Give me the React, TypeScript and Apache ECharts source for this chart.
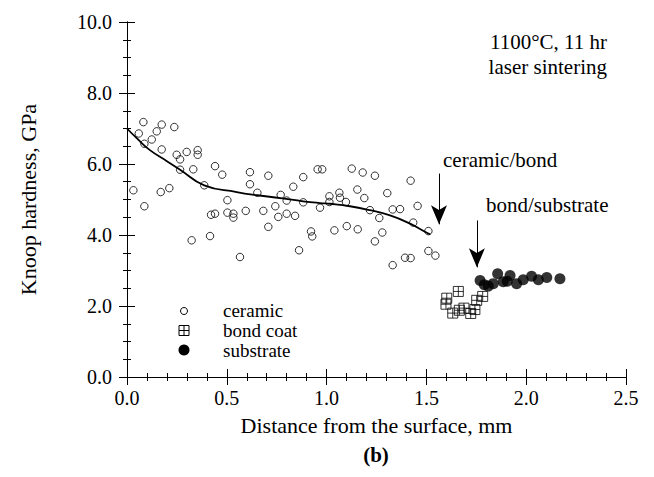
import React, { useEffect, useRef } from "react";
import * as echarts from "echarts";

const ceramicX = [0.032, 0.087, 0.059, 0.082, 0.087, 0.124, 0.149, 0.174, 0.237, 0.174, 0.249, 0.266, 0.299, 0.354, 0.354, 0.266, 0.332, 0.441, 0.477, 0.169, 0.212, 0.387, 0.503, 0.616, 0.616, 0.708, 0.653, 0.833, 0.883, 0.955, 0.978, 0.770, 0.800, 0.883, 0.967, 0.743, 0.421, 0.441, 0.503, 0.533, 0.533, 0.595, 0.683, 0.758, 0.800, 0.842, 0.708, 0.324, 0.416, 0.922, 0.928, 0.862, 0.566, 1.126, 1.181, 1.242, 1.421, 1.014, 1.064, 1.067, 1.097, 1.014, 1.154, 1.189, 1.304, 1.331, 1.368, 1.456, 1.217, 1.264, 1.434, 1.510, 1.039, 1.101, 1.156, 1.279, 1.242, 1.510, 1.545, 1.393, 1.421, 1.331];
const ceramicY = [5.26, 4.81, 6.86, 7.18, 6.57, 6.69, 6.92, 7.11, 7.04, 6.41, 6.26, 6.13, 6.34, 6.39, 6.26, 5.84, 5.85, 5.94, 5.70, 5.21, 5.32, 5.40, 4.98, 5.77, 5.43, 5.67, 5.19, 5.36, 5.63, 5.85, 5.85, 5.13, 4.97, 4.92, 4.77, 4.81, 4.57, 4.60, 4.63, 4.60, 4.49, 4.68, 4.68, 4.51, 4.60, 4.54, 4.23, 3.85, 3.97, 4.10, 3.96, 3.57, 3.38, 5.87, 5.76, 5.67, 5.53, 5.09, 5.19, 5.05, 4.93, 4.93, 5.28, 5.04, 5.18, 4.72, 4.73, 4.82, 4.70, 4.48, 4.35, 4.11, 4.13, 4.25, 4.16, 4.07, 3.82, 3.55, 3.42, 3.36, 3.35, 3.15];

const bondX = [1.660, 1.602, 1.598, 1.632, 1.665, 1.688, 1.722, 1.743, 1.752, 1.782];
const bondY = [2.41, 2.22, 2.05, 1.80, 1.88, 1.94, 1.79, 1.90, 2.16, 2.27];

const substrateX = [1.769, 1.810, 1.835, 1.857, 1.885, 1.905, 1.919, 1.952, 1.985, 2.027, 2.061, 2.103, 2.169, 1.79];
const substrateY = [2.72, 2.56, 2.63, 2.91, 2.68, 2.70, 2.86, 2.63, 2.74, 2.84, 2.74, 2.80, 2.77, 2.60];

const fitX = [0, 0.05, 0.115, 0.2, 0.266, 0.387, 0.55, 0.653, 0.77, 0.883, 0.967, 1.017, 1.117, 1.217, 1.318, 1.418, 1.50, 1.52];
const fitY = [7.0, 6.72, 6.39, 6.08, 5.84, 5.40, 5.21, 5.12, 5.04, 4.95, 4.90, 4.88, 4.81, 4.70, 4.55, 4.32, 4.07, 4.02];

const arrowCeramicBond = { x: 1.563, yFrom: 5.73, yTo: 4.30 };
const arrowBondSubstrate = { x: 1.753, yFrom: 4.41, yTo: 3.09 };

const xTicks = { min: 0, max: 2.5, interval: 0.5 };
const yTicks = { min: 0, max: 10, interval: 2 };

const FONT = "'Liberation Serif', 'Times New Roman', serif";
const TXT = 21;

const zip = (xs: number[], ys: number[]) => xs.map((x, i) => [x, ys[i]]);

const SQUARE = "path://M0,0L10,0L10,10L0,10Z M5,0L5,10 M0,5L10,5";

export default function App() {
  const ref = useRef<HTMLDivElement>(null);
  useEffect(() => {
    if (!ref.current) return;
    const chart = echarts.init(ref.current, undefined, { renderer: "svg" });
    const axisCommon = {
      type: "value" as const,
      axisLine: { show: true, lineStyle: { color: "#000", width: 1 } },
      axisTick: { show: true, inside: true, length: 8, lineStyle: { color: "#000", width: 1 } },
      splitLine: { show: false },
    };
    const labelStyle = {
      color: "#000",
      fontFamily: FONT,
      fontSize: 20,
    };
    const t = (text: string, x: number, y: number, align = "left", bold = false, size = TXT) => ({
      type: "text",
      x,
      y,
      style: {
        text,
        font: `${bold ? "bold " : ""}${size}px ${FONT}`,
        fill: "#000",
        align,
        verticalAlign: "middle",
      },
    });
    chart.setOption({
      animation: false,
      backgroundColor: "#fff",
      grid: { left: 127, right: 28, top: 22, bottom: 100 },
      xAxis: [
        {
          ...axisCommon,
          ...xTicks,
          position: "bottom",
          minorTick: { show: true, splitNumber: 5, length: 4, lineStyle: { color: "#000" } },
          axisLabel: { ...labelStyle, margin: 11, formatter: (v: number) => v.toFixed(1) },
          name: "Distance from the surface, mm",
          nameLocation: "middle",
          nameGap: 37,
          nameTextStyle: { color: "#000", fontFamily: FONT, fontSize: 22 },
        },
        {
          ...axisCommon,
          ...xTicks,
          position: "top",
          minorTick: { show: true, splitNumber: 5, length: 4, lineStyle: { color: "#000" } },
          axisLabel: { show: false },
        },
      ],
      yAxis: [
        {
          ...axisCommon,
          ...yTicks,
          position: "left",
          minorTick: { show: true, splitNumber: 4, length: 4, lineStyle: { color: "#000" } },
          axisLabel: { ...labelStyle, margin: 15, formatter: (v: number) => v.toFixed(1) },
          name: "Knoop hardness, GPa",
          nameLocation: "middle",
          nameGap: 88,
          nameTextStyle: { color: "#000", fontFamily: FONT, fontSize: 22 },
        },
        {
          ...axisCommon,
          ...yTicks,
          position: "right",
          minorTick: { show: true, splitNumber: 4, length: 4, lineStyle: { color: "#000" } },
          axisLabel: { show: false },
        },
      ],
      series: [
        {
          type: "line",
          name: "fit",
          data: zip(fitX, fitY),
          smooth: true,
          showSymbol: false,
          symbol: "none",
          lineStyle: { color: "#000", width: 1.8 },
          silent: true,
          z: 3,
          markLine: {
            silent: true,
            symbol: ["none", "arrow"],
            symbolSize: [12, 19],
            label: { show: false },
            lineStyle: { color: "#000", width: 1, type: "solid" },
            data: [
              [
                { coord: [arrowCeramicBond.x, arrowCeramicBond.yFrom] },
                { coord: [arrowCeramicBond.x, arrowCeramicBond.yTo] },
              ],
              [
                { coord: [arrowBondSubstrate.x, arrowBondSubstrate.yFrom] },
                { coord: [arrowBondSubstrate.x, arrowBondSubstrate.yTo] },
              ],
            ],
          },
        },
        {
          type: "scatter",
          name: "ceramic",
          data: zip(ceramicX, ceramicY),
          symbol: "circle",
          symbolSize: 7.5,
          itemStyle: { color: "rgba(255,255,255,0)", borderColor: "#000", borderWidth: 1 },
          z: 4,
        },
        {
          type: "scatter",
          name: "bond coat",
          data: zip(bondX, bondY),
          symbol: SQUARE,
          symbolSize: 10,
          itemStyle: { color: "rgba(255,255,255,0)", borderColor: "#000", borderWidth: 1 },
          z: 4,
        },
        {
          type: "scatter",
          name: "substrate",
          data: zip(substrateX, substrateY),
          symbol: "circle",
          symbolSize: 11,
          itemStyle: { color: "#000" },
          z: 5,
        },
      ],
      graphic: [
        { type: "circle", shape: { cx: 184, cy: 311, r: 3.5 }, style: { fill: "none", stroke: "#000", lineWidth: 1 } },
        { type: "rect", shape: { x: 179, y: 325.5, width: 10, height: 10 }, style: { fill: "none", stroke: "#000", lineWidth: 1 } },
        { type: "line", shape: { x1: 184, y1: 325.5, x2: 184, y2: 335.5 }, style: { stroke: "#000", lineWidth: 1 } },
        { type: "line", shape: { x1: 179, y1: 330.5, x2: 189, y2: 330.5 }, style: { stroke: "#000", lineWidth: 1 } },
        { type: "circle", shape: { cx: 184, cy: 350, r: 5.5 }, style: { fill: "#000" } },
        t("ceramic", 223, 310, "left", false, 19),
        t("bond coat", 223, 330, "left", false, 19),
        t("substrate", 223, 350, "left", false, 19),
        t("1100°C, 11 hr", 607, 42, "right"),
        t("laser sintering", 607, 67, "right"),
        t("ceramic/bond", 443, 160),
        t("bond/substrate", 486, 205),
        t("(b)", 376, 455, "center", true),
      ],
    });
    return () => chart.dispose();
  }, []);
  return <div ref={ref} style={{ width: 654, height: 477, position: "absolute", left: 0, top: 0 }} />;
}
